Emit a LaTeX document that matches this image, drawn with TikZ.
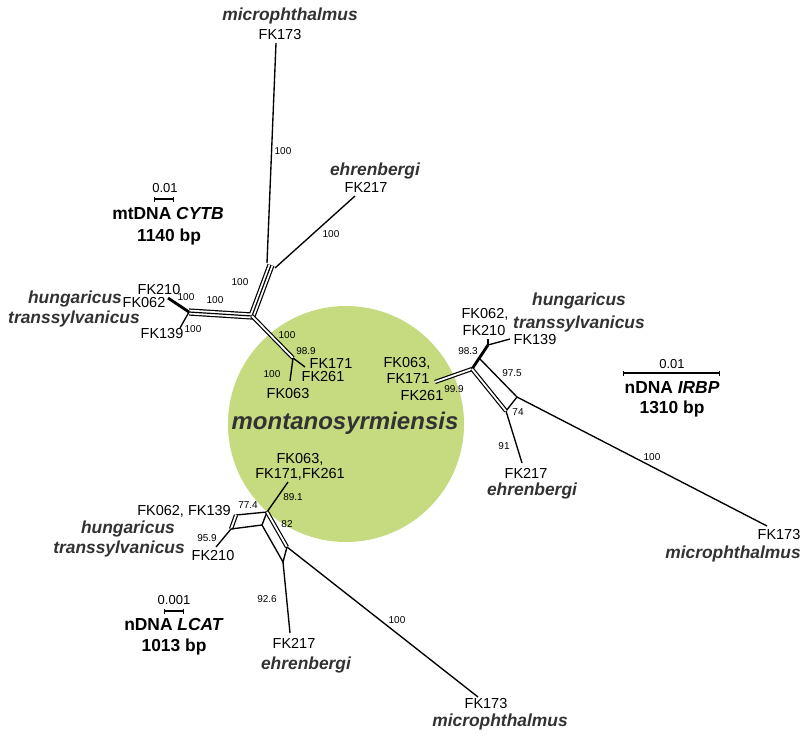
\documentclass[tikz,border=0pt]{standalone}
\usepackage{fontspec}
\setmainfont{Liberation Sans}
\usepackage{xcolor}
\usepackage{tikz}
\usetikzlibrary{arrows.meta}
\definecolor{leafgreen}{RGB}{198,218,127}
\definecolor{spgrey}{RGB}{50,50,50}

\begin{document}
\begin{tikzpicture}[x=1pt, y=-1pt, line join=round,
    edge/.style={black, line width=1.35pt},
    dbl/.style={draw=black, double=white, double distance=1.8pt, line width=1.2pt},
    tpl/.style={preaction={draw=black, line width=7.2pt}, draw=white, line width=4.8pt,
      postaction={draw=black, line width=1.2pt}},
    heavy/.style={black, line width=2.8pt},
    fk/.style={font=\fontsize{14.5}{16}\selectfont, inner sep=0pt, text height=10.4pt, text depth=0pt},
    bs/.style={font=\fontsize{10}{11}\selectfont, inner sep=0pt, text height=7.2pt, text depth=0pt},
    sp/.style={font=\fontsize{17.4}{19}\selectfont\bfseries\itshape, text=spgrey, inner sep=0pt,
      text height=12.5pt, text depth=0pt},
    caption/.style={font=\fontsize{17.4}{19}\selectfont\bfseries, inner sep=0pt,
      text height=12.5pt, text depth=0pt},
    sc/.style={font=\fontsize{13}{14}\selectfont, inner sep=0pt, text height=9.4pt, text depth=0pt},
    scalebar/.style={line width=1.2pt, {Bar[width=5pt]}-{Bar[width=5pt]}}]
  \useasboundingbox (0,0) rectangle (802,736);
  % ---------- shared core ----------
  \fill[leafgreen] (346,424) circle [radius=118pt];
  \node[font=\fontsize{24}{26}\selectfont\bfseries\itshape, text=spgrey, inner sep=0pt]
    (core) at (345,423) {montanosyrmiensis};

  % ---------- mtDNA CYTB ----------
  \coordinate (cMid) at (252,316);
  \coordinate (cUp) at (271,265);
  \coordinate (cUpL) at (267,263);
  \coordinate (cUpR) at (275,268);
  \coordinate (cLeft) at (189,312);
  \coordinate (cLow) at (293,358);
  \coordinate (cMic) at (276,43);
  \coordinate (cEhr) at (355,196);
  \coordinate (c210) at (168,298);
  \coordinate (c139) at (180,328);
  \coordinate (c171) at (305,367);
  \coordinate (c063) at (290,381);
  \draw[tpl] (cUp) -- (cMid) -- (cLeft);
  \draw[dbl] (cMid) -- (cLow);
  \draw[edge] (cUpL) -- (cMic);
  \draw[edge] (cUpR) -- (cEhr);
  \draw[heavy] (cLeft) -- (c210);
  \draw[edge] (cLeft) -- (c139);
  \draw[edge] (cLow) -- (c171);
  \draw[edge] (cLow) -- (c063);
  % tips
  \node[sp] (cMicSp) at (290,14) {microphthalmus};
  \node[fk] (cMicFk) at (280,34) {FK173};
  \node[sp] (cEhrSp) at (375,169) {ehrenbergi};
  \node[fk] (cEhrFk) at (366,187) {FK217};
  \node[sp] (cHunSp) at (75,297) {hungaricus};
  \node[sp] (cTraSp) at (74,317) {transsylvanicus};
  \node[fk] (c210Fk) at (159,289) {FK210};
  \node[fk] (c062Fk) at (144,302) {FK062};
  \node[fk] (c139Fk) at (162,333) {FK139};
  \node[fk] (c171Fk) at (331,363) {FK171};
  \node[fk] (c261Fk) at (323,376) {FK261};
  \node[fk] (c063Fk) at (288,393) {FK063};
  % support values
  \node[bs] (cb1) at (283,151) {100};
  \node[bs] (cb2) at (331,234) {100};
  \node[bs] (cb3) at (240,282) {100};
  \node[bs] (cb4) at (215,300) {100};
  \node[bs] (cb5) at (186,297) {100};
  \node[bs] (cb6) at (193,329) {100};
  \node[bs] (cb7) at (287,335) {100};
  \node[bs] (cb8) at (306,351) {98.9};
  \node[bs] (cb9) at (272,374) {100};
  % scale
  \coordinate (cs1) at (154,199);
  \coordinate (cs2) at (174,199);
  \draw[scalebar] (cs1) -- (cs2);
  \node[sc] (csLab) at (165,188) {0.01};
  \node[caption] (cGene) at (168,213) {mtDNA \textit{CYTB}};
  \node[caption] (cLen) at (169,235) {1140 bp};

  % ---------- nDNA IRBP ----------
  \coordinate (iA) at (472,369);
  \coordinate (iB) at (479,358);
  \coordinate (iTop) at (488,345);
  \coordinate (iC) at (517,397);
  \coordinate (iD) at (506,411);
  \coordinate (i063) at (435,382);
  \coordinate (i062) at (488,339);
  \coordinate (i139) at (510,339);
  \coordinate (i217) at (522,463);
  \coordinate (i173) at (767,526);
  \draw[dbl] (i063) -- (iA);
  \draw[heavy] (iA) -- (iTop);
  \draw[edge] (iTop) -- (i062);
  \draw[edge] (iTop) -- (i139);
  \draw[edge] (iB) -- (iC) -- (iD);
  \draw[dbl] (iA) -- (iD);
  \draw[edge] (iD) -- (i217);
  \draw[edge] (iC) -- (i173);
  % tips
  \node[fk] (i063Fk) at (407,362) {FK063,};
  \node[fk] (i171Fk) at (408,378) {FK171};
  \node[fk] (i261Fk) at (422,395) {FK261};
  \node[fk] (i062Fk) at (485,313) {FK062,};
  \node[fk] (i210Fk) at (484,330) {FK210};
  \node[fk] (i139Fk) at (535,339) {FK139};
  \node[sp] (iHunSp) at (579,299) {hungaricus};
  \node[sp] (iTraSp) at (579,322) {transsylvanicus};
  \node[fk] (i217Fk) at (526,473) {FK217};
  \node[sp] (iEhrSp) at (532,489) {ehrenbergi};
  \node[fk] (i173Fk) at (779,534) {FK173};
  \node[sp] (iMicSp) at (733,552) {microphthalmus};
  % support values
  \node[bs] (ib1) at (454,389) {99.9};
  \node[bs] (ib2) at (468,351) {98.3};
  \node[bs] (ib3) at (512,373) {97.5};
  \node[bs] (ib4) at (518,412) {74};
  \node[bs] (ib5) at (504,446) {91};
  \node[bs] (ib6) at (652,457) {100};
  % scale
  \coordinate (is1) at (623,373);
  \coordinate (is2) at (720,373);
  \draw[scalebar] (is1) -- (is2);
  \node[sc] (isLab) at (672,364) {0.01};
  \node[caption] (iGene) at (672,387) {nDNA \textit{IRBP}};
  \node[caption] (iLen) at (672,407) {1310 bp};

  % ---------- nDNA LCAT ----------
  \coordinate (lN) at (267,512);
  \coordinate (lL1) at (236,515);
  \coordinate (lL2) at (231,529);
  \coordinate (lM) at (262,525);
  \coordinate (lE1) at (287,547);
  \coordinate (lE2) at (283,562);
  \coordinate (l063) at (288,482);
  \coordinate (l210) at (216,547);
  \coordinate (l217) at (290,633);
  \coordinate (l173) at (478,697);
  \draw[edge] (l063) -- (lN);
  \draw[edge] (lN) -- (lL1);
  \draw[dbl] (lL1) -- (lL2);
  \draw[edge] (lL2) -- (lM) -- (lN);
  \draw[dbl] (lN) -- (lE1);
  \draw[edge] (lM) -- (lE2) -- (lE1);
  \draw[edge] (lE2) -- (l217);
  \draw[edge] (lE1) -- (l173);
  \draw[edge] (lL2) -- (l210);
  % tips
  \node[fk] (l063Fk) at (300,458) {FK063,};
  \node[fk] (l171Fk) at (300,473) {FK171,FK261};
  \node[fk] (l062Fk) at (184,510) {FK062, FK139};
  \node[sp, anchor=east] (lHunSp) at (175,527) {hungaricus};
  \node[sp, anchor=east] (lTraSp) at (185,547) {transsylvanicus};
  \node[fk] (l210Fk) at (213,555) {FK210};
  \node[fk] (l217Fk) at (294,643) {FK217};
  \node[sp] (lEhrSp) at (306,663) {ehrenbergi};
  \node[fk] (l173Fk) at (486,703) {FK173};
  \node[sp] (lMicSp) at (500,720) {microphthalmus};
  % support values
  \node[bs] (lb1) at (293,497) {89.1};
  \node[bs] (lb2) at (248,505) {77.4};
  \node[bs] (lb3) at (287,524) {82};
  \node[bs] (lb4) at (207,538) {95.9};
  \node[bs] (lb5) at (267,599) {92.6};
  \node[bs] (lb6) at (397,620) {100};
  % scale
  \coordinate (ls1) at (164,611);
  \coordinate (ls2) at (184,611);
  \draw[scalebar] (ls1) -- (ls2);
  \node[sc] (lsLab) at (174,600) {0.001};
  \node[caption] (lGene) at (174,624) {nDNA \textit{LCAT}};
  \node[caption] (lLen) at (174,645) {1013 bp};
\end{tikzpicture}
\end{document}
